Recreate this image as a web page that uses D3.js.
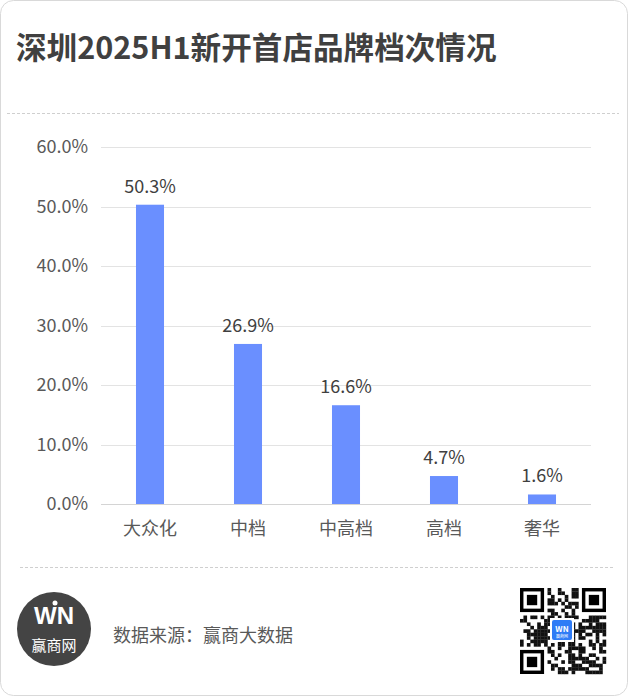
<!DOCTYPE html>
<html><head><meta charset="utf-8">
<script src="https://cdn.jsdelivr.net/npm/d3@7/dist/d3.min.js"></script>
<style>
html,body{margin:0;padding:0;background:#fff;}
text{font-family:"Noto Sans CJK SC","Noto Sans",sans-serif;}
</style></head>
<body>
<svg id="c" width="628" height="696"></svg>
<script>
const title = "深圳2025H1新开首店品牌档次情况";
const categories = ["大众化","中档","中高档","高档","奢华"];
const values = [50.3, 26.9, 16.6, 4.7, 1.6];
const yTicks = [0,10,20,30,40,50,60];
const source = "数据来源：赢商大数据";

const svg = d3.select("#c");
// card
svg.append("rect").attr("x",0.5).attr("y",0.5).attr("width",627).attr("height",695)
  .attr("rx",13).attr("fill","#fff").attr("stroke","#d9d9d9");

svg.append("text").attr("x",16).attr("y",59).attr("font-size",30.6).attr("font-weight","bold")
  .attr("fill","#404040").text(title);

svg.append("line").attr("x1",7).attr("x2",619).attr("y1",113.5).attr("y2",113.5)
  .attr("stroke","#cfcfcf").attr("stroke-dasharray","3,2");
svg.append("line").attr("x1",20).attr("x2",614).attr("y1",567.5).attr("y2",567.5)
  .attr("stroke","#cfcfcf").attr("stroke-dasharray","3,2");

const x = d3.scaleBand().domain(categories).range([101,591]).paddingInner(0.714).paddingOuter(0.357);
const y = d3.scaleLinear().domain([0,60]).range([504,147]);

const g = svg.append("g");
// grid
g.selectAll(".grid").data(yTicks).join("line")
  .attr("x1",101).attr("x2",591)
  .attr("y1",d=>Math.round(y(d))+0.5).attr("y2",d=>Math.round(y(d))+0.5)
  .attr("stroke",d=>d===0?"#d4d4d4":"#e3e3e3");

const yAxis = d3.axisLeft(y).tickValues(yTicks).tickFormat(d=>d.toFixed(1)+"%").tickSize(0).tickPadding(13);
const ya = g.append("g").attr("transform","translate(101,0)").call(yAxis);
ya.select(".domain").remove();
ya.selectAll("text").attr("font-size",18).attr("fill","#595959")
  .style("font-family",'"Noto Sans CJK SC",sans-serif');

const xAxis = d3.axisBottom(x).tickSize(0).tickPadding(18);
const xa = g.append("g").attr("transform","translate(0,504)").call(xAxis);
xa.select(".domain").remove();
xa.selectAll("text").attr("font-size",18).attr("fill","#595959")
  .style("font-family",'"Noto Sans CJK SC",sans-serif');

g.selectAll(".bar").data(values).join("rect")
  .attr("x",(d,i)=>x(categories[i])).attr("width",x.bandwidth())
  .attr("y",d=>y(d)).attr("height",d=>y(0)-y(d)).attr("fill","#6a8fff");

g.selectAll(".lbl").data(values).join("text")
  .attr("x",(d,i)=>x(categories[i])+x.bandwidth()/2).attr("y",d=>y(d)-12)
  .attr("text-anchor","middle").attr("font-size",18).attr("fill","#404040")
  .text(d=>d.toFixed(1)+"%");

// logo
svg.append("circle").attr("cx",54).attr("cy",629).attr("r",37).attr("fill","#444");
svg.append("text").attr("x",54).attr("y",624).attr("text-anchor","middle").attr("font-size",24)
  .attr("font-weight","900").attr("fill","#fff")
  .style("font-family","'Liberation Sans',Arial,sans-serif").text("WN");
svg.append("circle").attr("cx",55).attr("cy",603).attr("r",2.5).attr("fill","#fff");
svg.append("text").attr("x",54).attr("y",651).attr("text-anchor","middle").attr("font-size",15)
  .attr("fill","#fff").text("赢商网");

svg.append("text").attr("x",113).attr("y",642).attr("font-size",18).attr("fill","#595959").text(source);

// QR-like decoration
const qx=520, qy=588, n=25, m=86/25;
const qr = svg.append("g");
function finder(cx,cy){
  qr.append("rect").attr("x",qx+cx*m).attr("y",qy+cy*m).attr("width",7*m).attr("height",7*m).attr("fill","#000");
  qr.append("rect").attr("x",qx+(cx+1)*m).attr("y",qy+(cy+1)*m).attr("width",5*m).attr("height",5*m).attr("fill","#fff");
  qr.append("rect").attr("x",qx+(cx+2)*m).attr("y",qy+(cy+2)*m).attr("width",3*m).attr("height",3*m).attr("fill","#000");
}
let h=2166136261;
for(let r=0;r<n;r++)for(let c=0;c<n;c++){
  const inF=(r<8&&c<8)||(r<8&&c>=n-8)||(r>=n-8&&c<8);
  h=Math.imul(h^(r*31+c*17+7),16777619)>>>0;
  if(!inF && (h>>>7)%100<50){
    qr.append("rect").attr("x",qx+c*m).attr("y",qy+r*m).attr("width",m+0.2).attr("height",m+0.2).attr("fill","#111");
  }
}
finder(0,0);finder(n-7,0);finder(0,n-7);
qr.append("rect").attr("x",550).attr("y",618).attr("width",24).attr("height",24).attr("fill","#fff");
qr.append("rect").attr("x",552).attr("y",620).attr("width",20).attr("height",20).attr("rx",2).attr("fill","#2f7cf6");
qr.append("text").attr("x",562).attr("y",632).attr("text-anchor","middle").attr("font-size",8).attr("font-weight","bold").attr("fill","#fff").text("WN");
qr.append("text").attr("x",562).attr("y",638).attr("text-anchor","middle").attr("font-size",4).attr("fill","#fff").text("赢商网");
</script>
</body></html>
